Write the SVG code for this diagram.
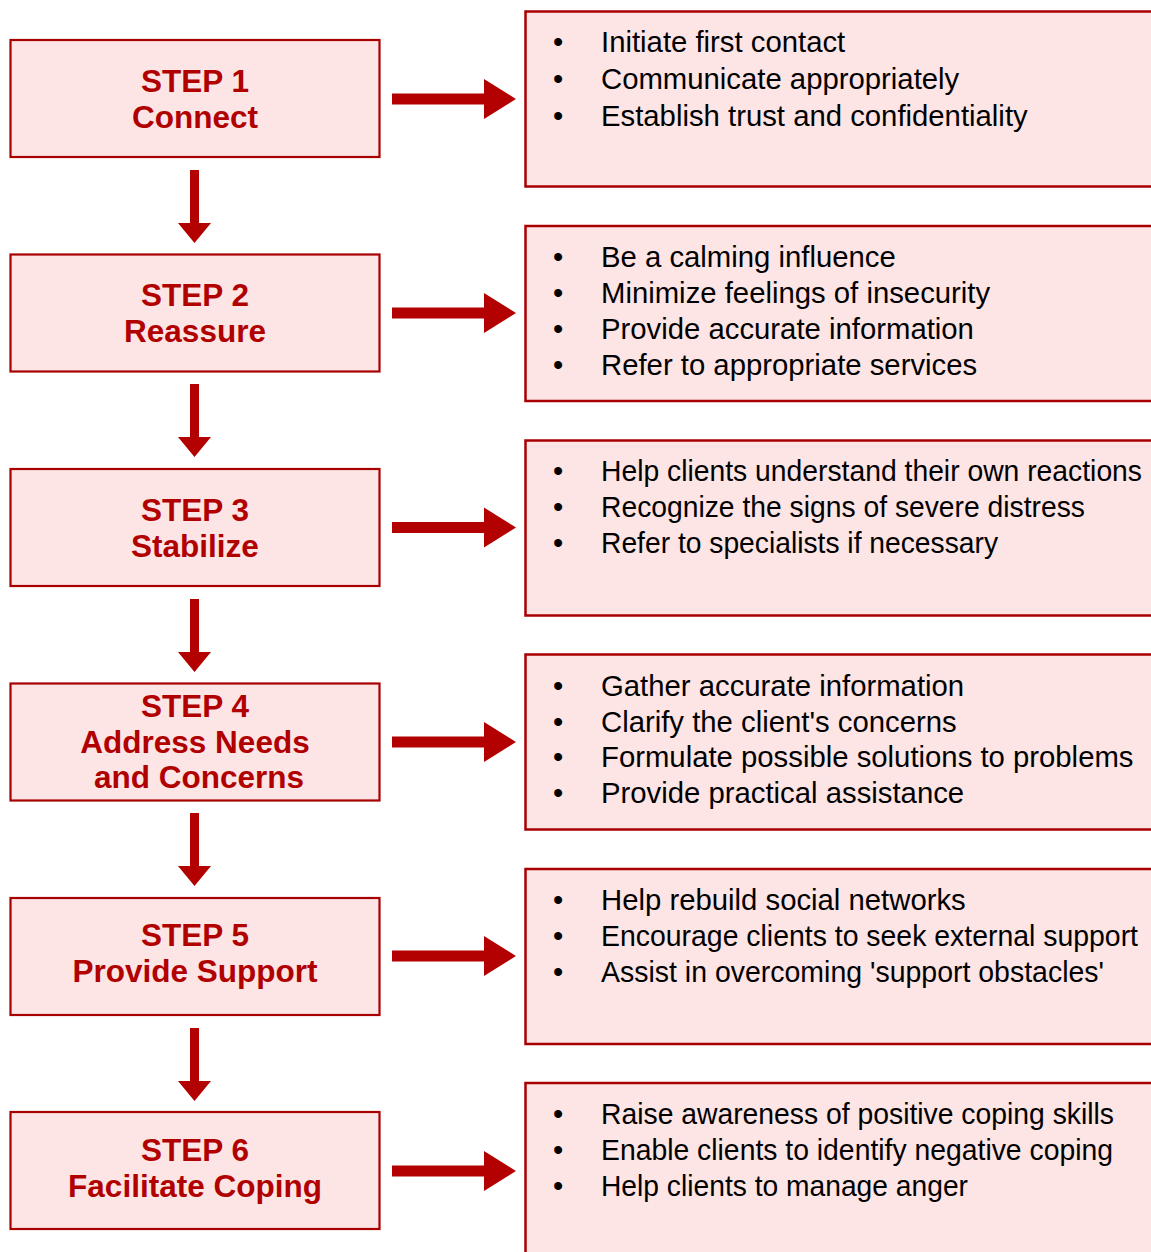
<svg xmlns="http://www.w3.org/2000/svg" width="1151" height="1252" viewBox="0 0 1151 1252">
<style>
.step{fill:#FDE4E5;stroke:#A80000;stroke-width:2.2}
.info{fill:#FDE4E5;stroke:#A80000;stroke-width:2.5}
.st{font-family:"Liberation Sans",Arial,sans-serif;font-weight:bold;font-size:31.5px;fill:#B00000;text-anchor:middle}
.it{font-family:"Liberation Sans",Arial,sans-serif;font-size:29.3px;fill:#000}
.arr{fill:#B30000}
</style>
<defs>
<path id="ha" d="M392,-5.5 H484 V-20 L516,0 L484,20 V5.5 H392 Z"/>
<path id="va" d="M-4.5,0 V53 H-16.5 L0,73 L16.5,53 H4.5 V0 Z"/>
</defs>
<rect width="1151" height="1252" fill="#fff"/>
<g id="connectors" class="arr">
<use href="#ha" transform="translate(0,99)"/>
<use href="#ha" transform="translate(0,313)"/>
<use href="#ha" transform="translate(0,527.5)"/>
<use href="#ha" transform="translate(0,742)"/>
<use href="#ha" transform="translate(0,956)"/>
<use href="#ha" transform="translate(0,1171)"/>
<use href="#va" transform="translate(194.5,170)"/>
<use href="#va" transform="translate(194.5,384)"/>
<use href="#va" transform="translate(194.5,599)"/>
<use href="#va" transform="translate(194.5,813)"/>
<use href="#va" transform="translate(194.5,1028)"/>
</g>
<g id="step1"><rect class="step" x="10.5" y="40" width="369" height="117"/>
<text class="st" x="195" y="92">STEP 1</text><text class="st" x="195" y="128">Connect</text></g>
<g id="step2"><rect class="step" x="10.5" y="254.5" width="369" height="117"/>
<text class="st" x="195" y="306">STEP 2</text><text class="st" x="195" y="342">Reassure</text></g>
<g id="step3"><rect class="step" x="10.5" y="469" width="369" height="117"/>
<text class="st" x="195" y="520.5">STEP 3</text><text class="st" x="195" y="556.5">Stabilize</text></g>
<g id="step4"><rect class="step" x="10.5" y="683.5" width="369" height="117"/>
<text class="st" x="195" y="717">STEP 4</text><text class="st" x="195" y="753">Address Needs</text><text class="st" x="199" y="788">and Concerns</text></g>
<g id="step5"><rect class="step" x="10.5" y="898" width="369" height="117"/>
<text class="st" x="195" y="946">STEP 5</text><text class="st" x="195" y="982">Provide Support</text></g>
<g id="step6"><rect class="step" x="10.5" y="1112" width="369" height="117"/>
<text class="st" x="195" y="1161">STEP 6</text><text class="st" x="195" y="1197">Facilitate Coping</text></g>

<g id="info1"><rect class="info" x="525.5" y="11.5" width="640" height="175"/>
<text class="it"><tspan x="553" y="52">•</tspan><tspan x="601" y="52">Initiate first contact</tspan>
<tspan x="553" y="89">•</tspan><tspan x="601" y="89">Communicate appropriately</tspan>
<tspan x="553" y="126">•</tspan><tspan x="601" y="126">Establish trust and confidentiality</tspan></text></g>
<g id="info2"><rect class="info" x="525.5" y="226" width="640" height="175"/>
<text class="it"><tspan x="553" y="267">•</tspan><tspan x="601" y="267">Be a calming influence</tspan>
<tspan x="553" y="303">•</tspan><tspan x="601" y="303">Minimize feelings of insecurity</tspan>
<tspan x="553" y="339">•</tspan><tspan x="601" y="339">Provide accurate information</tspan>
<tspan x="553" y="375">•</tspan><tspan x="601" y="375">Refer to appropriate services</tspan></text></g>
<g id="info3"><rect class="info" x="525.5" y="440.5" width="640" height="175"/>
<text class="it" x="553" y="481">•</text><text class="it" x="601" y="481" textLength="541" lengthAdjust="spacingAndGlyphs">Help clients understand their own reactions</text>
<text class="it" x="553" y="517">•</text><text class="it" x="601" y="517" textLength="484" lengthAdjust="spacingAndGlyphs">Recognize the signs of severe distress</text>
<text class="it" x="553" y="553">•</text><text class="it" x="601" y="553" textLength="397" lengthAdjust="spacingAndGlyphs">Refer to specialists if necessary</text></g>
<g id="info4"><rect class="info" x="525.5" y="654.5" width="640" height="175"/>
<text class="it"><tspan x="553" y="696">•</tspan><tspan x="601" y="696">Gather accurate information</tspan>
<tspan x="553" y="732">•</tspan><tspan x="601" y="732">Clarify the client's concerns</tspan>
<tspan x="553" y="767">•</tspan><tspan x="601" y="767">Formulate possible solutions to problems</tspan>
<tspan x="553" y="803">•</tspan><tspan x="601" y="803">Provide practical assistance</tspan></text></g>
<g id="info5"><rect class="info" x="525.5" y="869" width="640" height="175"/>
<text class="it" x="553" y="910">•</text><text class="it" x="601" y="910">Help rebuild social networks</text>
<text class="it" x="553" y="946">•</text><text class="it" x="601" y="946" textLength="537" lengthAdjust="spacingAndGlyphs">Encourage clients to seek external support</text>
<text class="it" x="553" y="982">•</text><text class="it" x="601" y="982" textLength="503" lengthAdjust="spacingAndGlyphs">Assist in overcoming 'support obstacles'</text></g>
<g id="info6"><rect class="info" x="525.5" y="1083" width="640" height="175"/>
<text class="it" x="553" y="1124">•</text><text class="it" x="601" y="1124" textLength="513" lengthAdjust="spacingAndGlyphs">Raise awareness of positive coping skills</text>
<text class="it" x="553" y="1160">•</text><text class="it" x="601" y="1160" textLength="512" lengthAdjust="spacingAndGlyphs">Enable clients to identify negative coping</text>
<text class="it" x="553" y="1196">•</text><text class="it" x="601" y="1196" textLength="367" lengthAdjust="spacingAndGlyphs">Help clients to manage anger</text></g>
</svg>
